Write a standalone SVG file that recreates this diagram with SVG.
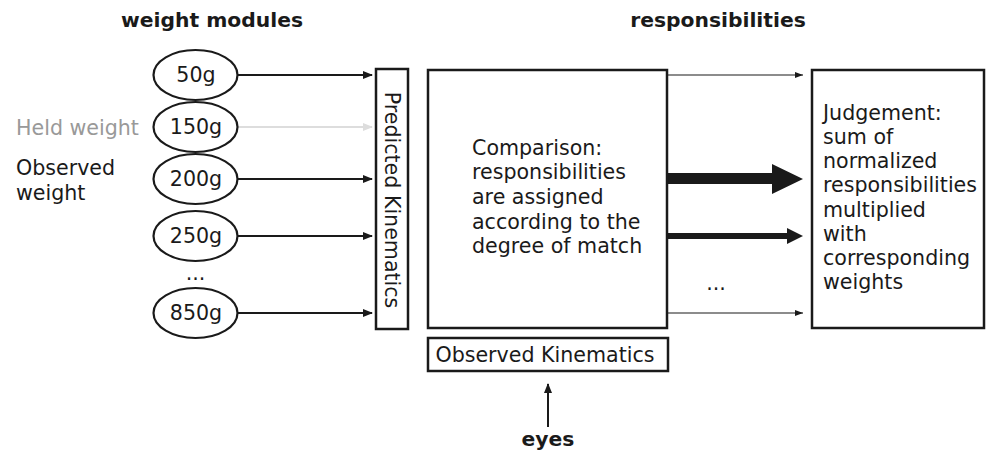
<svg xmlns="http://www.w3.org/2000/svg" width="986" height="450" viewBox="0 0 986 450">
<style>
text{font-family:"DejaVu Sans","Liberation Sans",sans-serif;font-size:20.6px;fill:#1a1a1a}
.b{font-weight:bold;font-size:20.3px}
.box{fill:#fff;stroke:#1a1a1a;stroke-width:2.5}
.ell{fill:#fff;stroke:#1a1a1a;stroke-width:2.2}
.c{stroke:#1a1a1a;stroke-width:2;fill:none}
.t{stroke:#1a1a1a;stroke-width:1.2;fill:none}
</style>
<defs>
<marker id="ah" markerWidth="10" markerHeight="8" refX="9" refY="4" orient="auto" markerUnits="userSpaceOnUse"><path d="M0,0 L10,4 L0,8 Z" fill="#1a1a1a"/></marker>
<marker id="ahg" markerWidth="10" markerHeight="8" refX="9" refY="4" orient="auto" markerUnits="userSpaceOnUse"><path d="M0,0 L10,4 L0,8 Z" fill="#ddd"/></marker>
<marker id="aht" markerWidth="8" markerHeight="6" refX="8" refY="3" orient="auto" markerUnits="userSpaceOnUse"><path d="M0,0 L8,3 L0,6 Z" fill="#1a1a1a"/></marker>
</defs>
<text class="b" x="212" y="27" text-anchor="middle">weight modules</text>
<text class="b" x="718" y="27" text-anchor="middle">responsibilities</text>
<text x="16" y="135" style="fill:#999">Held weight</text>
<text x="16" y="175">Observed</text>
<text x="16" y="200">weight</text>
<g id="connectors">
<line class="c" x1="238" y1="75" x2="372" y2="75" marker-end="url(#ah)"/>
<line x1="238" y1="127" x2="372" y2="127" stroke="#ddd" stroke-width="2" marker-end="url(#ahg)"/>
<line class="c" x1="238" y1="179" x2="372" y2="179" marker-end="url(#ah)"/>
<line class="c" x1="238" y1="236" x2="372" y2="236" marker-end="url(#ah)"/>
<line class="c" x1="238" y1="313" x2="372" y2="313" marker-end="url(#ah)"/>
<line class="t" x1="667" y1="75" x2="803" y2="75" marker-end="url(#aht)"/>
<path d="M667,173 L772,173 L772,164 L803,179 L772,194 L772,184 L667,184 Z" fill="#1a1a1a"/>
<path d="M667,233 L787,233 L787,228 L803,236 L787,244 L787,239 L667,239 Z" fill="#1a1a1a"/>
<line class="t" x1="667" y1="313" x2="803" y2="313" marker-end="url(#aht)"/>
<line class="c" x1="548" y1="427" x2="548" y2="384" marker-end="url(#ah)"/>
</g>
<g id="w50"><ellipse class="ell" cx="195.5" cy="75" rx="42" ry="25"/><text x="196" y="82" text-anchor="middle">50g</text></g>
<g id="w150"><ellipse class="ell" cx="195.5" cy="127" rx="42" ry="25"/><text x="196" y="134" text-anchor="middle">150g</text></g>
<g id="w200"><ellipse class="ell" cx="195.5" cy="179" rx="42" ry="25"/><text x="196" y="186" text-anchor="middle">200g</text></g>
<g id="w250"><ellipse class="ell" cx="195.5" cy="236" rx="42" ry="25"/><text x="196" y="243" text-anchor="middle">250g</text></g>
<text x="195.5" y="280" text-anchor="middle">...</text>
<g id="w850"><ellipse class="ell" cx="195.5" cy="313" rx="42" ry="25"/><text x="196" y="320" text-anchor="middle">850g</text></g>
<g id="predicted"><rect class="box" x="376" y="69" width="32" height="260"/><text transform="translate(385,200) rotate(90)" text-anchor="middle">Predicted Kinematics</text></g>
<g id="comparison"><rect class="box" x="428" y="70" width="239" height="258"/>
<text x="472" y="155">Comparison:</text>
<text x="472" y="179">responsibilities</text>
<text x="472" y="204">are assigned</text>
<text x="472" y="229">according to the</text>
<text x="472" y="253">degree of match</text></g>
<text x="716" y="290" text-anchor="middle">...</text>
<g id="judgement"><rect class="box" x="812" y="70" width="172" height="258"/>
<text x="823" y="120">Judgement:</text>
<text x="823" y="144">sum of</text>
<text x="823" y="168">normalized</text>
<text x="823" y="192">responsibilities</text>
<text x="823" y="217">multiplied</text>
<text x="823" y="241">with</text>
<text x="823" y="265">corresponding</text>
<text x="823" y="289">weights</text></g>
<g id="observed"><rect class="box" x="428" y="338" width="240" height="33"/><text x="545" y="362" text-anchor="middle">Observed Kinematics</text></g>
<text class="b" x="548" y="446" text-anchor="middle">eyes</text>
</svg>
